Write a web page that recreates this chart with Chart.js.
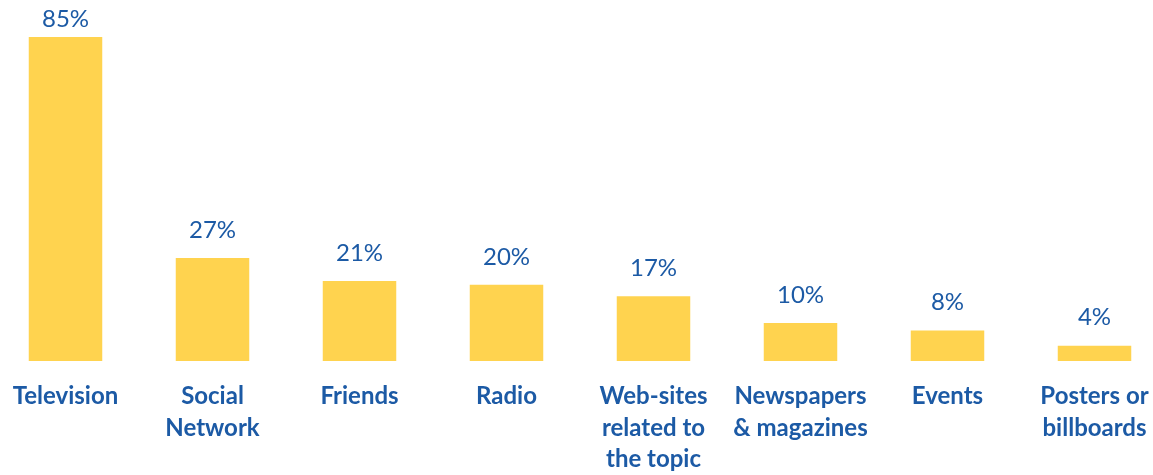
<!DOCTYPE html>
<html>
<head>
<meta charset="utf-8">
<script src="https://cdn.jsdelivr.net/npm/chart.js@4/dist/chart.umd.min.js"></script>
<style>
  html, body { margin: 0; padding: 0; background: #fff; overflow: hidden; }
  #wrap { position: absolute; left: -8px; top: 0; width: 1176px; height: 475px; }
</style>
</head>
<body>
<div id="wrap"><canvas id="sources"></canvas></div>
<script>
const categories = [
  'Television',
  ['Social', 'Network'],
  'Friends',
  'Radio',
  ['Web-sites', 'related to', 'the topic'],
  ['Newspapers', '& magazines'],
  'Events',
  ['Posters or', 'billboards']
];
const shares = [85, 27, 21, 20, 17, 10, 8, 4];

const blue = '#1C5AA5';
const yellow = '#FFD34F';

// writes "NN%" above every bar, kept inside the canvas for the tallest one
const valueLabels = {
  id: 'valueLabels',
  afterDatasetsDraw(chart) {
    const ctx = chart.ctx;
    const meta = chart.getDatasetMeta(0);
    ctx.save();
    ctx.font = '24px Lato, "Open Sans", sans-serif';
    ctx.fillStyle = blue;
    ctx.textAlign = 'center';
    ctx.textBaseline = 'middle';
    meta.data.forEach((bar, i) => {
      ctx.fillText(shares[i] + '%', bar.x, Math.max(bar.y - 28, 19));
    });
    ctx.restore();
  }
};

new Chart(document.getElementById('sources'), {
  type: 'bar',
  data: {
    labels: categories,
    datasets: [{
      data: shares,
      backgroundColor: yellow,
      borderWidth: 0,
      barPercentage: 0.5,
      categoryPercentage: 1
    }]
  },
  options: {
    responsive: true,
    maintainAspectRatio: false,
    animation: false,
    layout: { padding: { top: 18, left: 0, right: 0, bottom: 0 } },
    plugins: {
      legend: { display: false },
      tooltip: { enabled: false }
    },
    scales: {
      x: {
        grid: { display: false },
        border: { display: false },
        afterFit(axis) { axis.height = 114; },
        ticks: {
          color: blue,
          padding: 12,
          autoSkip: false,
          maxRotation: 0,
          minRotation: 0,
          font: { family: 'Lato, "Open Sans", sans-serif', size: 24, weight: 'bold', lineHeight: 1.3 }
        }
      },
      y: {
        display: false,
        min: 0,
        max: 90
      }
    }
  },
  plugins: [valueLabels]
});
</script>
</body>
</html>
